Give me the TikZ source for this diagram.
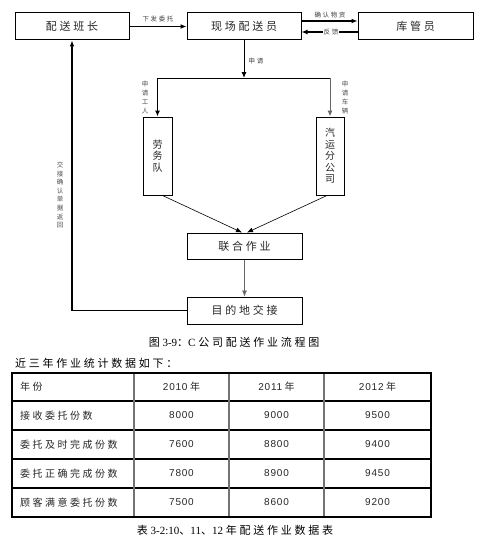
\documentclass[tikz,border=0pt]{standalone}
\usepackage{fontspec}
\setmainfont{Liberation Serif}
\newfontfamily\cjk[LetterSpace=25]{Noto Sans CJK SC}
\newfontfamily\cjkn{Noto Sans CJK SC}
\newfontfamily\numf[LetterSpace=8]{Liberation Sans}
\usetikzlibrary{arrows.meta}
\begin{document}
\begin{tikzpicture}[x=1pt,y=-1pt,
  box/.style={draw=black,line width=1pt,inner sep=0pt,font=\cjk\fontsize{11}{11}\selectfont,text=black!85},
  vbox/.style={box,align=center,font=\cjkn\fontsize{10}{11.5}\selectfont},
  arr/.style={line width=1.3pt,-{Latex[length=6pt,width=5pt]}},
  tarr/.style={line width=0.6pt,-{Latex[length=6pt,width=5pt]}},
  lab/.style={inner sep=0.5pt,font=\cjk\fontsize{6.5}{7}\selectfont,text=black!75},
  vlab/.style={inner sep=0pt,align=center,font=\cjkn\fontsize{6.5}{9}\selectfont,text=black!70},
  captxt/.style={inner sep=0pt,font=\fontsize{11}{11}\selectfont},
  cell/.style={inner sep=0pt,font=\fontsize{10}{10}\selectfont,text=black!85},
  numcell/.style={cell,font=\numf\fontsize{10}{10}\selectfont},
  hl/.style={line width=1.8pt},
  ovl/.style={line width=1.5pt},
  ivl/.style={line width=1.1pt,draw=black!55}]
\useasboundingbox (0,0) rectangle (486,543);
% boxes
\node[box,minimum width=114pt,minimum height=27pt] (bz) at (72,26.5) {配送班长};
\node[box,minimum width=114pt,minimum height=27pt] (xc) at (244,26.5) {现场配送员};
\node[box,minimum width=115pt,minimum height=27pt] (kg) at (415.5,26.5) {库管员};
\node[vbox,minimum width=29pt,minimum height=78pt] (lw) at (157.5,156) {劳\\务\\队};
\node[vbox,minimum width=28pt,minimum height=78pt] (qy) at (330,156) {汽\\运\\分\\公\\司};
\node[box,minimum width=115pt,minimum height=26pt] (lh) at (244.5,246) {联合作业};
\node[box,minimum width=115pt,minimum height=27pt] (md) at (244.5,310.5) {目的地交接};
% connectors
\draw[arr] (bz.east) -- (xc.west);
\node[lab] (l1) at (158,19) {下发委托};
\draw[arr] ([yshift=5.5pt]xc.east) -- ([yshift=5.5pt]kg.west);
\node[lab] (l2) at (330,15) {确认物资};
\draw[arr] ([yshift=-5.5pt]kg.west) -- ([yshift=-5.5pt]xc.east);
\node[lab,fill=white] (l3) at (331,32) {反馈};
\coordinate (sp) at (244,78);
\coordinate (spl) at (157.5,78);
\coordinate (spr) at (330,78);
\draw[arr,line width=0.9pt] (xc.south) -- (sp);
\node[lab] (l4) at (256,61) {申请};
\draw[line width=1pt] (spl) -- (spr);
\draw[arr,line width=1pt] (spl) -- (lw.north);
\draw[arr,line width=1pt,draw=black!60] (spr) -- (qy.north);
\node[vlab] (l5) at (145,98) {申\\请\\工\\人};
\node[vlab] (l6) at (345,98) {申\\请\\车\\辆};
\draw[tarr] ([xshift=5pt]lw.south) -- ([xshift=-2.5pt]lh.north);
\draw[tarr] ([xshift=-3pt]qy.south) -- ([xshift=2.5pt]lh.north);
\draw[tarr,draw=black!60] (lh.south) -- (md.north);
\draw[arr] (md.west) -| (bz.south);
\node[vlab,font=\cjkn\fontsize{6.5}{8.6}\selectfont] (l7) at (60,195) {交\\接\\确\\认\\单\\据\\返\\回};
% captions
\node[captxt] (c1) at (234,342) {{\cjk 图} 3-9{\cjk ：}C {\cjk 公司配送作业流程图}};
\node[captxt,anchor=west] (c2) at (15,363) {\cjk 近三年作业统计数据如下：};
% table
\foreach \y in {373,401,430,459,488,517} \draw[hl] (11,\y) -- (432,\y);
\draw[ovl] (12,373) -- (12,517);
\draw[ovl] (431,373) -- (431,517);
\foreach \x in {134,229,324} \draw[ivl] (\x,374) -- (\x,516);
\node[cell,anchor=west] (h0) at (20,387) {\cjk 年份};
\node[cell] (h1) at (181.5,387) {{\numf 2010} {\cjkn 年}};
\node[cell] (h2) at (276.5,387) {{\numf 2011} {\cjkn 年}};
\node[cell] (h3) at (377.5,387) {{\numf 2012} {\cjkn 年}};
\node[cell,anchor=west] (r1) at (20,415.5) {\cjk 接收委托份数};
\node[numcell] (a1) at (181.5,415.5) {8000};
\node[numcell] (b1) at (276.5,415.5) {9000};
\node[numcell] (c1n) at (377.5,415.5) {9500};
\node[cell,anchor=west] (r2) at (20,444.5) {\cjk 委托及时完成份数};
\node[numcell] (a2) at (181.5,444.5) {7600};
\node[numcell] (b2) at (276.5,444.5) {8800};
\node[numcell] (c2n) at (377.5,444.5) {9400};
\node[cell,anchor=west] (r3) at (20,473.5) {\cjk 委托正确完成份数};
\node[numcell] (a3) at (181.5,473.5) {7800};
\node[numcell] (b3) at (276.5,473.5) {8900};
\node[numcell] (c3n) at (377.5,473.5) {9450};
\node[cell,anchor=west] (r4) at (20,502.5) {\cjk 顾客满意委托份数};
\node[numcell] (a4) at (181.5,502.5) {7500};
\node[numcell] (b4) at (276.5,502.5) {8600};
\node[numcell] (c4n) at (377.5,502.5) {9200};
\node[captxt] (c3) at (235,530) {{\cjk 表} 3-2:10{\cjkn 、}11{\cjkn 、}12 {\cjk 年配送作业数据表}};
\end{tikzpicture}
\end{document}
